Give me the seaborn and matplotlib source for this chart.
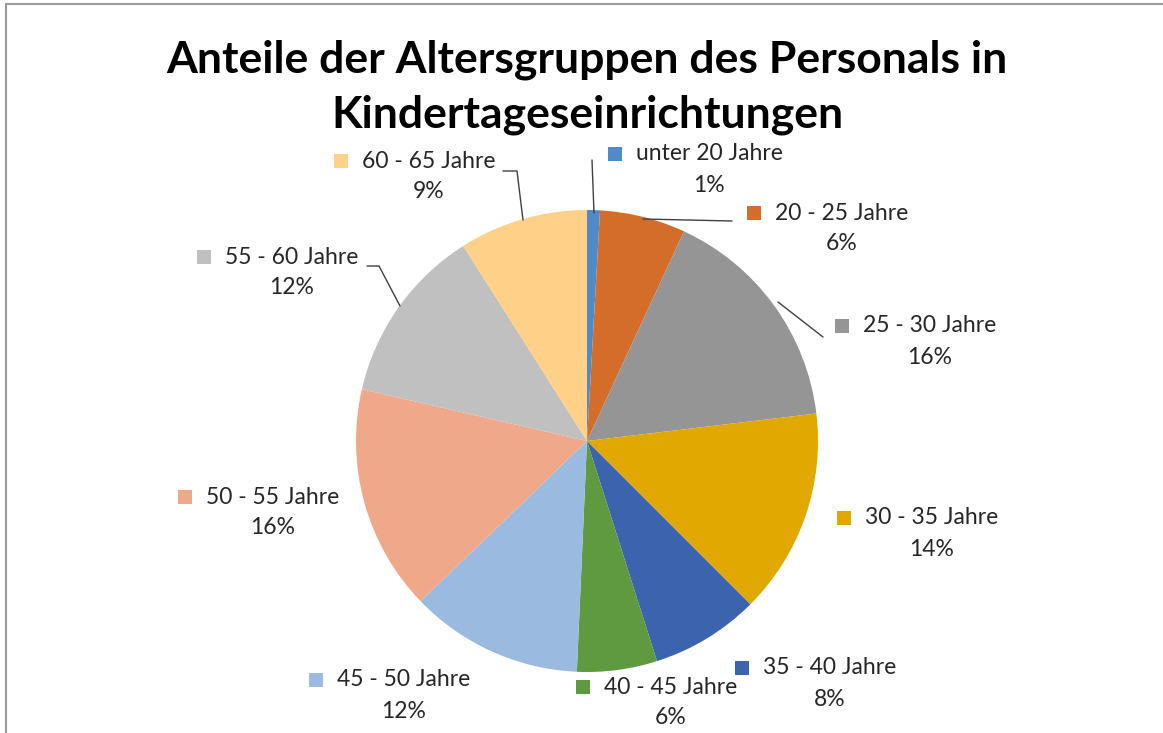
import matplotlib
matplotlib.use("Agg")
import matplotlib.pyplot as plt
import seaborn as sns

# Data (percent shares)
groups = ["unter 20 Jahre", "20 - 25 Jahre", "25 - 30 Jahre", "30 - 35 Jahre",
          "35 - 40 Jahre", "40 - 45 Jahre", "45 - 50 Jahre", "50 - 55 Jahre",
          "55 - 60 Jahre", "60 - 65 Jahre"]
shares = [0.9, 6.0, 16.2, 14.4, 7.6, 5.6, 12.1, 15.8, 12.4, 9.0]
colors = ["#4F8BC9", "#D46D2A", "#959595", "#E0A800", "#3C63AD",
          "#5F9A40", "#9ABADF", "#F0A88A", "#C0C0C0", "#FFD088"]
title = "Anteile der Altersgruppen des Personals in\nKindertageseinrichtungen"

W, H = 1163, 733
sns.set_theme(style="white")
plt.rcParams['font.family'] = ['Lato', 'DejaVu Sans']

fig = plt.figure(figsize=(W / 100, H / 100), dpi=100)
ax = fig.add_axes([0, 0, 1, 1])

# pie centre / radius in pixel space (y flipped)
cx, cy, r = 587, H - 441, 231
ax.pie(shares, colors=colors, startangle=90, counterclock=False,
       center=(cx, cy), radius=r, wedgeprops=dict(linewidth=0))
ax.set_xlim(0, W)
ax.set_ylim(0, H)
ax.set_aspect('auto')
ax.axis('off')

# frame lines of the original sheet
ax.plot([5.5, 5.5], [0, H - 4], color="#9a9a9a", lw=1.5)
ax.plot([5.5, W], [H - 4, H - 4], color="#9a9a9a", lw=1.5)

ax.text(587, H - 87, title, ha='center', va='center', fontsize=32,
        fontweight='bold', color='black', linespacing=1.45)

# label layout: (name centre x, name y) in pixels
label_pos = [(709, 154), (842, 213), (930, 326), (932, 518), (830, 668),
             (671, 687), (404, 680), (273, 497), (292, 257), (429, 161)]

fig.canvas.draw()
renderer = fig.canvas.get_renderer()
for name, val, col, (lx, ly) in zip(groups, shares, colors, label_pos):
    t = ax.text(lx, H - ly, name, ha='center', va='center', fontsize=16.5,
                color='#262626')
    ax.text(lx, H - ly - 31, f"{round(val):d}%", ha='center', va='center',
            fontsize=16.5, color='#262626')
    bb = t.get_window_extent(renderer)
    ax.scatter([bb.x0 - 21], [H - ly], marker='s', s=100, color=col,
               linewidths=0)

# leader lines
leaders = [[(594, 213), (592, 160)],
           [(643, 219), (732, 221)],
           [(778, 302), (823, 337)],
           [(523, 220), (517, 171), (503, 171)],
           [(400, 306), (379, 266), (367, 266)]]
for pts in leaders:
    ax.plot([p[0] for p in pts], [H - p[1] for p in pts], color='#404040', lw=1)

fig.savefig("out.png", dpi=100)
